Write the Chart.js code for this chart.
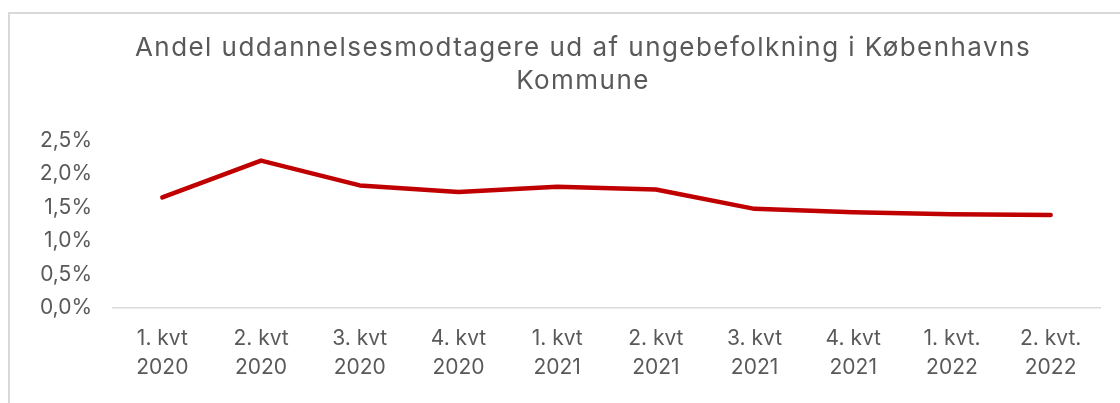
<!DOCTYPE html>
<html>
<head>
<meta charset="utf-8">
<script src="https://cdn.jsdelivr.net/npm/chart.js@4"></script>
<style>
  html, body { margin: 0; padding: 0; background: #ffffff; overflow: hidden; }
  #wrap { position: relative; width: 1120px; height: 403px; }
  #frame { position: absolute; left: 8px; top: 12px; width: 1200px; height: 500px; border: 2px solid #d9d9d9; box-sizing: border-box; }
  canvas { position: absolute; left: 0; top: 0; }
</style>
</head>
<body>
<div id="wrap">
  <div id="frame"></div>
  <canvas id="c" width="1120" height="403"></canvas>
</div>
<script>
const titleLines = ["Andel uddannelsesmodtagere ud af ungebefolkning i Københavns", "Kommune"];
const categories = [
  ["1. kvt", "2020"], ["2. kvt", "2020"], ["3. kvt", "2020"], ["4. kvt", "2020"],
  ["1. kvt", "2021"], ["2. kvt", "2021"], ["3. kvt", "2021"], ["4. kvt", "2021"],
  ["1. kvt.", "2022"], ["2. kvt.", "2022"]
];
const shareValues = [1.65, 2.20, 1.83, 1.73, 1.81, 1.77, 1.48, 1.43, 1.40, 1.39];
const yTicks = [0, 0.5, 1.0, 1.5, 2.0, 2.5];

const FONT = "Inter, Lato, sans-serif";
const GREY = "#595959";

function withSpacing(box, spacing) {
  if (!box || box.__spaced) return;
  const orig = box.draw;
  box.draw = function (...args) {
    const ctx = this.ctx;
    const prev = ctx.letterSpacing;
    ctx.letterSpacing = spacing;
    try { orig.apply(this, args); } finally { ctx.letterSpacing = prev || "0px"; }
  };
  box.__spaced = true;
}

const layoutTweaks = {
  id: "layoutTweaks",
  afterLayout(chart) {
    const t = chart.titleBlock;
    if (t) { t.left = 66; t.right = 1100; }
    withSpacing(t, "1.45px");
    withSpacing(chart.scales.x, "0.6px");
    withSpacing(chart.scales.y, "2.5px");
  }
};

new Chart(document.getElementById("c"), {
  type: "line",
  data: {
    labels: categories,
    datasets: [{
      data: shareValues,
      borderColor: "#C00000",
      backgroundColor: "#C00000",
      borderWidth: 4.5,
      borderCapStyle: "round",
      borderJoinStyle: "round",
      pointRadius: 0,
      tension: 0
    }]
  },
  options: {
    responsive: false,
    animation: false,
    devicePixelRatio: 1,
    layout: { padding: { left: 10, right: 20, top: 32, bottom: 5 } },
    plugins: {
      legend: { display: false },
      tooltip: { enabled: false },
      title: {
        display: true,
        text: titleLines,
        color: GREY,
        font: { family: FONT, size: 26, weight: "normal", lineHeight: 1.26 },
        padding: { top: 0, bottom: 43 }
      }
    },
    scales: {
      x: {
        offset: true,
        grid: { display: false, drawTicks: false },
        border: { display: true, color: "#d9d9d9", width: 1.5 },
        ticks: {
          color: GREY,
          padding: 16,
          maxRotation: 0,
          autoSkip: false,
          font: { family: FONT, size: 21, lineHeight: 1.38 }
        }
      },
      y: {
        min: 0,
        max: 2.5,
        afterFit: (s) => { s.width = 103; },
        afterBuildTicks: (s) => { s.ticks = yTicks.map(v => ({ value: v })); },
        grid: { display: false, drawTicks: false },
        border: { display: false },
        ticks: {
          color: GREY,
          padding: 21,
          font: { family: FONT, size: 21 },
          callback: (v) => v.toFixed(1).replace(".", ",") + "%"
        }
      }
    }
  },
  plugins: [layoutTweaks]
});
</script>
</body>
</html>
